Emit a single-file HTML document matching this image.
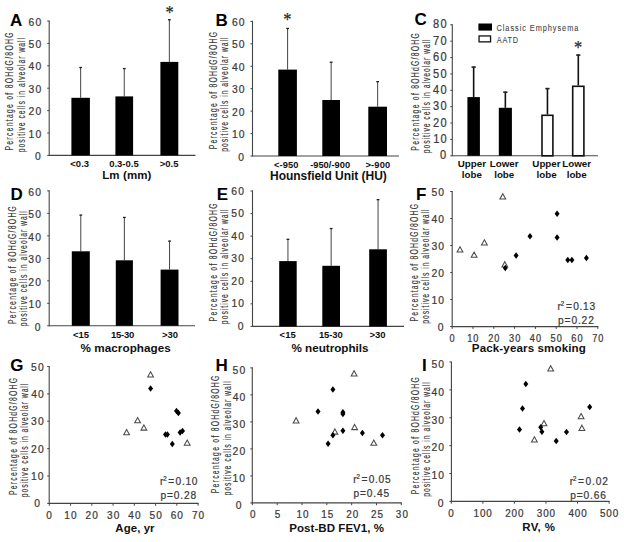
<!DOCTYPE html>
<html><head><meta charset="utf-8"><style>
html,body{margin:0;padding:0;background:#fff;}
body{width:624px;height:542px;overflow:hidden;}
svg{display:block;font-family:"Liberation Sans",sans-serif;}
</style></head><body>
<svg width="624" height="542" viewBox="0 0 624 542">
<rect width="624" height="542" fill="#fff"/>
<line x1="49.20" y1="20.40" x2="49.20" y2="155.90" stroke="#444" stroke-width="1.1"/>
<line x1="47.20" y1="155.40" x2="49.20" y2="155.40" stroke="#444" stroke-width="1"/>
<text transform="translate(34.92,160.03) scale(0.9,1)" font-size="11.5" font-weight="normal" fill="#3a3a3a" stroke="#3a3a3a" stroke-width="0.25" textLength="7.00" lengthAdjust="spacing">0</text>
<line x1="47.20" y1="133.00" x2="49.20" y2="133.00" stroke="#444" stroke-width="1"/>
<text transform="translate(28.58,137.63) scale(0.9,1)" font-size="11.5" font-weight="normal" fill="#3a3a3a" stroke="#3a3a3a" stroke-width="0.25" textLength="14.06" lengthAdjust="spacing">10</text>
<line x1="47.20" y1="110.60" x2="49.20" y2="110.60" stroke="#444" stroke-width="1"/>
<text transform="translate(28.55,115.22) scale(0.9,1)" font-size="11.5" font-weight="normal" fill="#3a3a3a" stroke="#3a3a3a" stroke-width="0.25" textLength="14.10" lengthAdjust="spacing">20</text>
<line x1="47.20" y1="88.20" x2="49.20" y2="88.20" stroke="#444" stroke-width="1"/>
<text transform="translate(28.54,92.83) scale(0.9,1)" font-size="11.5" font-weight="normal" fill="#3a3a3a" stroke="#3a3a3a" stroke-width="0.25" textLength="14.11" lengthAdjust="spacing">30</text>
<line x1="47.20" y1="65.80" x2="49.20" y2="65.80" stroke="#444" stroke-width="1"/>
<text transform="translate(28.52,70.42) scale(0.9,1)" font-size="11.5" font-weight="normal" fill="#3a3a3a" stroke="#3a3a3a" stroke-width="0.25" textLength="14.13" lengthAdjust="spacing">40</text>
<line x1="47.20" y1="43.40" x2="49.20" y2="43.40" stroke="#444" stroke-width="1"/>
<text transform="translate(28.54,48.02) scale(0.9,1)" font-size="11.5" font-weight="normal" fill="#3a3a3a" stroke="#3a3a3a" stroke-width="0.25" textLength="14.11" lengthAdjust="spacing">50</text>
<line x1="47.20" y1="21.00" x2="49.20" y2="21.00" stroke="#444" stroke-width="1"/>
<text transform="translate(28.55,25.62) scale(0.9,1)" font-size="11.5" font-weight="normal" fill="#3a3a3a" stroke="#3a3a3a" stroke-width="0.25" textLength="14.10" lengthAdjust="spacing">60</text>
<line x1="49.20" y1="155.40" x2="195.50" y2="155.40" stroke="#444" stroke-width="1.1"/>
<line x1="80.65" y1="67.05" x2="80.65" y2="97.80" stroke="#444" stroke-width="1.0"/>
<line x1="79.25" y1="67.50" x2="82.05" y2="67.50" stroke="#222" stroke-width="1.3"/>
<rect x="71.40" y="97.80" width="18.50" height="57.60" fill="#000"/>
<line x1="124.25" y1="68.10" x2="124.25" y2="96.40" stroke="#444" stroke-width="1.0"/>
<line x1="122.85" y1="68.55" x2="125.65" y2="68.55" stroke="#222" stroke-width="1.3"/>
<rect x="115.40" y="96.40" width="17.70" height="59.00" fill="#000"/>
<line x1="169.35" y1="19.30" x2="169.35" y2="61.90" stroke="#444" stroke-width="1.0"/>
<line x1="167.95" y1="19.75" x2="170.75" y2="19.75" stroke="#222" stroke-width="1.3"/>
<rect x="160.40" y="61.90" width="17.90" height="93.50" fill="#000"/>
<text transform="translate(165.41,19.09) scale(0.88,1)" font-family="Liberation Serif" font-size="18.6" fill="#2a2a2a" stroke="#2a2a2a" stroke-width="0.25">*</text>
<text x="70.30" y="166.90" font-size="9.5" font-weight="bold" fill="#111">&lt;0.3</text>
<text x="109.16" y="166.90" font-size="9.5" font-weight="bold" fill="#111">0.3-0.5</text>
<text x="159.75" y="166.90" font-size="9.5" font-weight="bold" fill="#111">&gt;0.5</text>
<text x="102.15" y="179.30" font-size="11.5" font-weight="bold" fill="#111" textLength="49.29" lengthAdjust="spacing">Lm (mm)</text>
<text x="9.88" y="25.60" font-size="17" font-weight="bold" fill="#000">A</text>
<text transform="translate(12.70,150.54) rotate(-90) scale(0.68,1.0)" font-size="10" fill="#383838" stroke="#383838" stroke-width="0.15" textLength="173.57" lengthAdjust="spacing">Percentage of 8OHdG/8OHG</text>
<text transform="translate(24.60,152.24) rotate(-90) scale(0.68,1.0)" font-size="10" fill="#383838" stroke="#383838" stroke-width="0.15" textLength="168.07" lengthAdjust="spacing">positive cells in alveolar wall</text>
<line x1="252.50" y1="20.80" x2="252.50" y2="156.50" stroke="#444" stroke-width="1.1"/>
<line x1="250.50" y1="156.00" x2="252.50" y2="156.00" stroke="#444" stroke-width="1"/>
<text transform="translate(238.32,160.53) scale(0.9,1)" font-size="11.5" font-weight="normal" fill="#3a3a3a" stroke="#3a3a3a" stroke-width="0.25" textLength="7.00" lengthAdjust="spacing">0</text>
<line x1="250.50" y1="133.57" x2="252.50" y2="133.57" stroke="#444" stroke-width="1"/>
<text transform="translate(231.98,138.09) scale(0.9,1)" font-size="11.5" font-weight="normal" fill="#3a3a3a" stroke="#3a3a3a" stroke-width="0.25" textLength="14.06" lengthAdjust="spacing">10</text>
<line x1="250.50" y1="111.13" x2="252.50" y2="111.13" stroke="#444" stroke-width="1"/>
<text transform="translate(231.95,115.66) scale(0.9,1)" font-size="11.5" font-weight="normal" fill="#3a3a3a" stroke="#3a3a3a" stroke-width="0.25" textLength="14.10" lengthAdjust="spacing">20</text>
<line x1="250.50" y1="88.70" x2="252.50" y2="88.70" stroke="#444" stroke-width="1"/>
<text transform="translate(231.94,93.23) scale(0.9,1)" font-size="11.5" font-weight="normal" fill="#3a3a3a" stroke="#3a3a3a" stroke-width="0.25" textLength="14.11" lengthAdjust="spacing">30</text>
<line x1="250.50" y1="66.27" x2="252.50" y2="66.27" stroke="#444" stroke-width="1"/>
<text transform="translate(231.92,70.79) scale(0.9,1)" font-size="11.5" font-weight="normal" fill="#3a3a3a" stroke="#3a3a3a" stroke-width="0.25" textLength="14.13" lengthAdjust="spacing">40</text>
<line x1="250.50" y1="43.83" x2="252.50" y2="43.83" stroke="#444" stroke-width="1"/>
<text transform="translate(231.94,48.36) scale(0.9,1)" font-size="11.5" font-weight="normal" fill="#3a3a3a" stroke="#3a3a3a" stroke-width="0.25" textLength="14.11" lengthAdjust="spacing">50</text>
<line x1="250.50" y1="21.40" x2="252.50" y2="21.40" stroke="#444" stroke-width="1"/>
<text transform="translate(231.95,25.93) scale(0.9,1)" font-size="11.5" font-weight="normal" fill="#3a3a3a" stroke="#3a3a3a" stroke-width="0.25" textLength="14.10" lengthAdjust="spacing">60</text>
<line x1="252.50" y1="156.00" x2="399.00" y2="156.00" stroke="#444" stroke-width="1.1"/>
<line x1="287.60" y1="28.00" x2="287.60" y2="69.60" stroke="#444" stroke-width="1.0"/>
<line x1="286.20" y1="28.45" x2="289.00" y2="28.45" stroke="#222" stroke-width="1.3"/>
<rect x="278.30" y="69.60" width="18.60" height="86.40" fill="#000"/>
<line x1="331.15" y1="61.80" x2="331.15" y2="100.00" stroke="#444" stroke-width="1.0"/>
<line x1="329.75" y1="62.25" x2="332.55" y2="62.25" stroke="#222" stroke-width="1.3"/>
<rect x="322.30" y="100.00" width="17.70" height="56.00" fill="#000"/>
<line x1="377.65" y1="81.20" x2="377.65" y2="106.70" stroke="#444" stroke-width="1.0"/>
<line x1="376.25" y1="81.65" x2="379.05" y2="81.65" stroke="#222" stroke-width="1.3"/>
<rect x="368.30" y="106.70" width="18.70" height="49.30" fill="#000"/>
<text transform="translate(283.21,26.29) scale(0.88,1)" font-family="Liberation Serif" font-size="18.6" fill="#2a2a2a" stroke="#2a2a2a" stroke-width="0.25">*</text>
<text x="274.03" y="168.00" font-size="9.3" font-weight="bold" fill="#111" textLength="24.35" lengthAdjust="spacing">&lt;-950</text>
<text x="310.13" y="168.00" font-size="9.3" font-weight="bold" fill="#111" textLength="39.95" lengthAdjust="spacing">-950/-900</text>
<text x="365.43" y="168.00" font-size="9.3" font-weight="bold" fill="#111" textLength="24.75" lengthAdjust="spacing">&gt;-900</text>
<text x="270.02" y="180.40" font-size="12" font-weight="bold" fill="#111" textLength="116.74" lengthAdjust="spacing">Hounsfield Unit (HU)</text>
<text x="215.59" y="25.80" font-size="17" font-weight="bold" fill="#000">B</text>
<text transform="translate(217.30,149.24) rotate(-90) scale(0.68,1.0)" font-size="10" fill="#383838" stroke="#383838" stroke-width="0.15" textLength="172.40" lengthAdjust="spacing">Percentage of 8OHdG/8OHG</text>
<text transform="translate(228.20,151.84) rotate(-90) scale(0.68,1.0)" font-size="10" fill="#383838" stroke="#383838" stroke-width="0.15" textLength="168.07" lengthAdjust="spacing">positive cells in alveolar wall</text>
<line x1="452.30" y1="24.20" x2="452.30" y2="156.30" stroke="#444" stroke-width="1.1"/>
<line x1="450.30" y1="155.80" x2="452.30" y2="155.80" stroke="#444" stroke-width="1"/>
<text transform="translate(439.91,159.41) scale(0.9,1)" font-size="12.3" font-weight="normal" fill="#3a3a3a" stroke="#3a3a3a" stroke-width="0.25" textLength="7.49" lengthAdjust="spacing">0</text>
<line x1="450.30" y1="139.43" x2="452.30" y2="139.43" stroke="#444" stroke-width="1"/>
<text transform="translate(433.13,143.03) scale(0.9,1)" font-size="12.3" font-weight="normal" fill="#3a3a3a" stroke="#3a3a3a" stroke-width="0.25" textLength="15.04" lengthAdjust="spacing">10</text>
<line x1="450.30" y1="123.05" x2="452.30" y2="123.05" stroke="#444" stroke-width="1"/>
<text transform="translate(433.10,126.66) scale(0.9,1)" font-size="12.3" font-weight="normal" fill="#3a3a3a" stroke="#3a3a3a" stroke-width="0.25" textLength="15.08" lengthAdjust="spacing">20</text>
<line x1="450.30" y1="106.68" x2="452.30" y2="106.68" stroke="#444" stroke-width="1"/>
<text transform="translate(433.09,110.28) scale(0.9,1)" font-size="12.3" font-weight="normal" fill="#3a3a3a" stroke="#3a3a3a" stroke-width="0.25" textLength="15.09" lengthAdjust="spacing">30</text>
<line x1="450.30" y1="90.30" x2="452.30" y2="90.30" stroke="#444" stroke-width="1"/>
<text transform="translate(433.07,93.91) scale(0.9,1)" font-size="12.3" font-weight="normal" fill="#3a3a3a" stroke="#3a3a3a" stroke-width="0.25" textLength="15.11" lengthAdjust="spacing">40</text>
<line x1="450.30" y1="73.93" x2="452.30" y2="73.93" stroke="#444" stroke-width="1"/>
<text transform="translate(433.09,77.53) scale(0.9,1)" font-size="12.3" font-weight="normal" fill="#3a3a3a" stroke="#3a3a3a" stroke-width="0.25" textLength="15.09" lengthAdjust="spacing">50</text>
<line x1="450.30" y1="57.55" x2="452.30" y2="57.55" stroke="#444" stroke-width="1"/>
<text transform="translate(433.10,61.16) scale(0.9,1)" font-size="12.3" font-weight="normal" fill="#3a3a3a" stroke="#3a3a3a" stroke-width="0.25" textLength="15.08" lengthAdjust="spacing">60</text>
<line x1="450.30" y1="41.18" x2="452.30" y2="41.18" stroke="#444" stroke-width="1"/>
<text transform="translate(433.10,44.78) scale(0.9,1)" font-size="12.3" font-weight="normal" fill="#3a3a3a" stroke="#3a3a3a" stroke-width="0.25" textLength="15.08" lengthAdjust="spacing">70</text>
<line x1="450.30" y1="24.80" x2="452.30" y2="24.80" stroke="#444" stroke-width="1"/>
<text transform="translate(433.09,28.41) scale(0.9,1)" font-size="12.3" font-weight="normal" fill="#3a3a3a" stroke="#3a3a3a" stroke-width="0.25" textLength="15.08" lengthAdjust="spacing">80</text>
<line x1="452.30" y1="155.80" x2="598.00" y2="155.80" stroke="#444" stroke-width="1.1"/>
<line x1="473.65" y1="66.50" x2="473.65" y2="97.10" stroke="#111" stroke-width="1.6"/>
<line x1="471.55" y1="67.10" x2="475.75" y2="67.10" stroke="#222" stroke-width="1.6"/>
<rect x="467.40" y="97.10" width="12.50" height="58.70" fill="#000"/>
<line x1="505.35" y1="91.60" x2="505.35" y2="107.80" stroke="#111" stroke-width="1.6"/>
<line x1="503.25" y1="92.20" x2="507.45" y2="92.20" stroke="#222" stroke-width="1.6"/>
<rect x="498.80" y="107.80" width="13.10" height="48.00" fill="#000"/>
<line x1="547.45" y1="88.00" x2="547.45" y2="114.50" stroke="#111" stroke-width="1.6"/>
<line x1="545.35" y1="88.60" x2="549.55" y2="88.60" stroke="#222" stroke-width="1.6"/>
<rect x="542.00" y="115.30" width="10.90" height="40.50" fill="#fff" stroke="#111" stroke-width="1.6"/>
<line x1="578.30" y1="54.50" x2="578.30" y2="85.50" stroke="#111" stroke-width="1.6"/>
<line x1="576.20" y1="55.10" x2="580.40" y2="55.10" stroke="#222" stroke-width="1.6"/>
<rect x="572.70" y="86.30" width="11.20" height="69.50" fill="#fff" stroke="#111" stroke-width="1.6"/>
<text transform="translate(573.91,53.89) scale(0.88,1)" font-family="Liberation Serif" font-size="18.6" fill="#2a2a2a" stroke="#2a2a2a" stroke-width="0.25">*</text>
<text x="457.72" y="166.50" font-size="9.8" font-weight="bold" fill="#111">Upper</text>
<text x="461.86" y="177.90" font-size="9.8" font-weight="bold" fill="#111">lobe</text>
<text x="489.72" y="166.50" font-size="9.8" font-weight="bold" fill="#111">Lower</text>
<text x="494.16" y="177.90" font-size="9.8" font-weight="bold" fill="#111">lobe</text>
<text x="532.32" y="166.50" font-size="9.8" font-weight="bold" fill="#111">Upper</text>
<text x="536.46" y="177.90" font-size="9.8" font-weight="bold" fill="#111">lobe</text>
<text x="562.22" y="166.50" font-size="9.8" font-weight="bold" fill="#111">Lower</text>
<text x="566.66" y="177.90" font-size="9.8" font-weight="bold" fill="#111">lobe</text>
<rect x="478.40" y="23.50" width="13.60" height="7.10" fill="#000"/>
<rect x="479.05" y="35.95" width="11.50" height="5.90" fill="#fff" stroke="#111" stroke-width="1.3"/>
<text transform="translate(496.53,30.80) scale(0.8,1)" font-size="9.2" font-weight="normal" fill="#444" stroke="#444" stroke-width="0.1" textLength="102.24" lengthAdjust="spacing">Classic Emphysema</text>
<text transform="translate(496.86,42.60) scale(0.8,1)" font-size="9.2" font-weight="normal" fill="#444" stroke="#444" stroke-width="0.1" textLength="26.61" lengthAdjust="spacing">AATD</text>
<text x="414.42" y="25.00" font-size="17" font-weight="bold" fill="#000">C</text>
<text transform="translate(418.80,150.64) rotate(-90) scale(0.68,1.0)" font-size="10" fill="#383838" stroke="#383838" stroke-width="0.15" textLength="172.54" lengthAdjust="spacing">Percentage of 8OHdG/8OHG</text>
<text transform="translate(429.60,153.24) rotate(-90) scale(0.68,1.0)" font-size="10" fill="#383838" stroke="#383838" stroke-width="0.15" textLength="167.48" lengthAdjust="spacing">positive cells in alveolar wall</text>
<line x1="49.20" y1="190.30" x2="49.20" y2="326.30" stroke="#444" stroke-width="1.1"/>
<line x1="47.20" y1="325.80" x2="49.20" y2="325.80" stroke="#444" stroke-width="1"/>
<text transform="translate(34.72,330.73) scale(0.9,1)" font-size="11.5" font-weight="normal" fill="#3a3a3a" stroke="#3a3a3a" stroke-width="0.25" textLength="7.00" lengthAdjust="spacing">0</text>
<line x1="47.20" y1="303.32" x2="49.20" y2="303.32" stroke="#444" stroke-width="1"/>
<text transform="translate(28.38,308.24) scale(0.9,1)" font-size="11.5" font-weight="normal" fill="#3a3a3a" stroke="#3a3a3a" stroke-width="0.25" textLength="14.06" lengthAdjust="spacing">10</text>
<line x1="47.20" y1="280.83" x2="49.20" y2="280.83" stroke="#444" stroke-width="1"/>
<text transform="translate(28.35,285.76) scale(0.9,1)" font-size="11.5" font-weight="normal" fill="#3a3a3a" stroke="#3a3a3a" stroke-width="0.25" textLength="14.10" lengthAdjust="spacing">20</text>
<line x1="47.20" y1="258.35" x2="49.20" y2="258.35" stroke="#444" stroke-width="1"/>
<text transform="translate(28.34,263.28) scale(0.9,1)" font-size="11.5" font-weight="normal" fill="#3a3a3a" stroke="#3a3a3a" stroke-width="0.25" textLength="14.11" lengthAdjust="spacing">30</text>
<line x1="47.20" y1="235.87" x2="49.20" y2="235.87" stroke="#444" stroke-width="1"/>
<text transform="translate(28.32,240.79) scale(0.9,1)" font-size="11.5" font-weight="normal" fill="#3a3a3a" stroke="#3a3a3a" stroke-width="0.25" textLength="14.13" lengthAdjust="spacing">40</text>
<line x1="47.20" y1="213.38" x2="49.20" y2="213.38" stroke="#444" stroke-width="1"/>
<text transform="translate(28.34,218.31) scale(0.9,1)" font-size="11.5" font-weight="normal" fill="#3a3a3a" stroke="#3a3a3a" stroke-width="0.25" textLength="14.11" lengthAdjust="spacing">50</text>
<line x1="47.20" y1="190.90" x2="49.20" y2="190.90" stroke="#444" stroke-width="1"/>
<text transform="translate(28.35,195.83) scale(0.9,1)" font-size="11.5" font-weight="normal" fill="#3a3a3a" stroke="#3a3a3a" stroke-width="0.25" textLength="14.10" lengthAdjust="spacing">60</text>
<line x1="49.20" y1="325.80" x2="195.00" y2="325.80" stroke="#444" stroke-width="1.1"/>
<line x1="80.80" y1="214.70" x2="80.80" y2="251.30" stroke="#444" stroke-width="1.0"/>
<line x1="79.40" y1="215.15" x2="82.20" y2="215.15" stroke="#222" stroke-width="1.3"/>
<rect x="71.80" y="251.30" width="18.00" height="74.50" fill="#000"/>
<line x1="124.35" y1="217.00" x2="124.35" y2="260.30" stroke="#444" stroke-width="1.0"/>
<line x1="122.95" y1="217.45" x2="125.75" y2="217.45" stroke="#222" stroke-width="1.3"/>
<rect x="115.80" y="260.30" width="17.10" height="65.50" fill="#000"/>
<line x1="169.55" y1="240.70" x2="169.55" y2="269.60" stroke="#444" stroke-width="1.0"/>
<line x1="168.15" y1="241.15" x2="170.95" y2="241.15" stroke="#222" stroke-width="1.3"/>
<rect x="160.60" y="269.60" width="17.90" height="56.20" fill="#000"/>
<text x="72.88" y="338.30" font-size="9.5" font-weight="bold" fill="#111">&lt;15</text>
<text x="111.03" y="338.30" font-size="9.5" font-weight="bold" fill="#111" textLength="23.32" lengthAdjust="spacing">15-30</text>
<text x="161.95" y="338.30" font-size="9.5" font-weight="bold" fill="#111">&gt;30</text>
<text x="80.51" y="351.70" font-size="11.7" font-weight="bold" fill="#111" textLength="90.36" lengthAdjust="spacing">% macrophages</text>
<text x="10.39" y="199.80" font-size="17" font-weight="bold" fill="#000">D</text>
<text transform="translate(15.70,324.04) rotate(-90) scale(0.68,1.0)" font-size="10" fill="#383838" stroke="#383838" stroke-width="0.15" textLength="173.43" lengthAdjust="spacing">Percentage of 8OHdG/8OHG</text>
<text transform="translate(27.00,326.24) rotate(-90) scale(0.68,1.0)" font-size="10" fill="#383838" stroke="#383838" stroke-width="0.15" textLength="169.25" lengthAdjust="spacing">positive cells in alveolar wall</text>
<line x1="252.50" y1="190.40" x2="252.50" y2="326.90" stroke="#444" stroke-width="1.1"/>
<line x1="250.50" y1="326.40" x2="252.50" y2="326.40" stroke="#444" stroke-width="1"/>
<text transform="translate(237.72,329.92) scale(0.9,1)" font-size="11.5" font-weight="normal" fill="#3a3a3a" stroke="#3a3a3a" stroke-width="0.25" textLength="7.00" lengthAdjust="spacing">0</text>
<line x1="250.50" y1="303.83" x2="252.50" y2="303.83" stroke="#444" stroke-width="1"/>
<text transform="translate(231.38,307.36) scale(0.9,1)" font-size="11.5" font-weight="normal" fill="#3a3a3a" stroke="#3a3a3a" stroke-width="0.25" textLength="14.06" lengthAdjust="spacing">10</text>
<line x1="250.50" y1="281.27" x2="252.50" y2="281.27" stroke="#444" stroke-width="1"/>
<text transform="translate(231.35,284.79) scale(0.9,1)" font-size="11.5" font-weight="normal" fill="#3a3a3a" stroke="#3a3a3a" stroke-width="0.25" textLength="14.10" lengthAdjust="spacing">20</text>
<line x1="250.50" y1="258.70" x2="252.50" y2="258.70" stroke="#444" stroke-width="1"/>
<text transform="translate(231.34,262.22) scale(0.9,1)" font-size="11.5" font-weight="normal" fill="#3a3a3a" stroke="#3a3a3a" stroke-width="0.25" textLength="14.11" lengthAdjust="spacing">30</text>
<line x1="250.50" y1="236.13" x2="252.50" y2="236.13" stroke="#444" stroke-width="1"/>
<text transform="translate(231.32,239.66) scale(0.9,1)" font-size="11.5" font-weight="normal" fill="#3a3a3a" stroke="#3a3a3a" stroke-width="0.25" textLength="14.13" lengthAdjust="spacing">40</text>
<line x1="250.50" y1="213.57" x2="252.50" y2="213.57" stroke="#444" stroke-width="1"/>
<text transform="translate(231.34,217.09) scale(0.9,1)" font-size="11.5" font-weight="normal" fill="#3a3a3a" stroke="#3a3a3a" stroke-width="0.25" textLength="14.11" lengthAdjust="spacing">50</text>
<line x1="250.50" y1="191.00" x2="252.50" y2="191.00" stroke="#444" stroke-width="1"/>
<text transform="translate(231.35,194.53) scale(0.9,1)" font-size="11.5" font-weight="normal" fill="#3a3a3a" stroke="#3a3a3a" stroke-width="0.25" textLength="14.10" lengthAdjust="spacing">60</text>
<line x1="252.50" y1="326.40" x2="404.00" y2="326.40" stroke="#444" stroke-width="1.1"/>
<line x1="287.95" y1="238.90" x2="287.95" y2="261.10" stroke="#444" stroke-width="1.0"/>
<line x1="286.55" y1="239.35" x2="289.35" y2="239.35" stroke="#222" stroke-width="1.3"/>
<rect x="279.20" y="261.10" width="17.50" height="65.30" fill="#000"/>
<line x1="331.15" y1="228.10" x2="331.15" y2="265.80" stroke="#444" stroke-width="1.0"/>
<line x1="329.75" y1="228.55" x2="332.55" y2="228.55" stroke="#222" stroke-width="1.3"/>
<rect x="322.30" y="265.80" width="17.70" height="60.60" fill="#000"/>
<line x1="378.05" y1="199.20" x2="378.05" y2="249.30" stroke="#444" stroke-width="1.0"/>
<line x1="376.65" y1="199.65" x2="379.45" y2="199.65" stroke="#222" stroke-width="1.3"/>
<rect x="369.20" y="249.30" width="17.70" height="77.10" fill="#000"/>
<text x="279.58" y="338.30" font-size="9.5" font-weight="bold" fill="#111">&lt;15</text>
<text x="318.93" y="338.30" font-size="9.5" font-weight="bold" fill="#111" textLength="23.92" lengthAdjust="spacing">15-30</text>
<text x="369.45" y="338.30" font-size="9.5" font-weight="bold" fill="#111">&gt;30</text>
<text x="291.41" y="352.20" font-size="11.7" font-weight="bold" fill="#111" textLength="77.18" lengthAdjust="spacing">% neutrophils</text>
<text x="216.80" y="200.20" font-size="17" font-weight="bold" fill="#000">E</text>
<text transform="translate(217.30,321.44) rotate(-90) scale(0.68,1.0)" font-size="10" fill="#383838" stroke="#383838" stroke-width="0.15" textLength="173.57" lengthAdjust="spacing">Percentage of 8OHdG/8OHG</text>
<text transform="translate(228.30,324.14) rotate(-90) scale(0.68,1.0)" font-size="10" fill="#383838" stroke="#383838" stroke-width="0.15" textLength="168.66" lengthAdjust="spacing">positive cells in alveolar wall</text>
<line x1="452.20" y1="190.90" x2="452.20" y2="327.10" stroke="#444" stroke-width="1.1"/>
<line x1="450.20" y1="326.60" x2="452.20" y2="326.60" stroke="#444" stroke-width="1"/>
<text transform="translate(437.82,330.73) scale(0.9,1)" font-size="11.5" font-weight="normal" fill="#3a3a3a" stroke="#3a3a3a" stroke-width="0.25" textLength="7.00" lengthAdjust="spacing">0</text>
<line x1="450.20" y1="299.58" x2="452.20" y2="299.58" stroke="#444" stroke-width="1"/>
<text transform="translate(431.48,303.71) scale(0.9,1)" font-size="11.5" font-weight="normal" fill="#3a3a3a" stroke="#3a3a3a" stroke-width="0.25" textLength="14.06" lengthAdjust="spacing">10</text>
<line x1="450.20" y1="272.56" x2="452.20" y2="272.56" stroke="#444" stroke-width="1"/>
<text transform="translate(431.45,276.69) scale(0.9,1)" font-size="11.5" font-weight="normal" fill="#3a3a3a" stroke="#3a3a3a" stroke-width="0.25" textLength="14.10" lengthAdjust="spacing">20</text>
<line x1="450.20" y1="245.54" x2="452.20" y2="245.54" stroke="#444" stroke-width="1"/>
<text transform="translate(431.44,249.67) scale(0.9,1)" font-size="11.5" font-weight="normal" fill="#3a3a3a" stroke="#3a3a3a" stroke-width="0.25" textLength="14.11" lengthAdjust="spacing">30</text>
<line x1="450.20" y1="218.52" x2="452.20" y2="218.52" stroke="#444" stroke-width="1"/>
<text transform="translate(431.42,222.65) scale(0.9,1)" font-size="11.5" font-weight="normal" fill="#3a3a3a" stroke="#3a3a3a" stroke-width="0.25" textLength="14.13" lengthAdjust="spacing">40</text>
<line x1="450.20" y1="191.50" x2="452.20" y2="191.50" stroke="#444" stroke-width="1"/>
<text transform="translate(431.44,195.63) scale(0.9,1)" font-size="11.5" font-weight="normal" fill="#3a3a3a" stroke="#3a3a3a" stroke-width="0.25" textLength="14.11" lengthAdjust="spacing">50</text>
<line x1="451.70" y1="326.60" x2="598.30" y2="326.60" stroke="#444" stroke-width="1.1"/>
<line x1="452.20" y1="326.60" x2="452.20" y2="328.90" stroke="#444" stroke-width="1"/>
<text transform="translate(449.41,341.50) scale(0.9,1)" font-size="10.2" font-weight="normal" fill="#3a3a3a" stroke="#3a3a3a" stroke-width="0.25" textLength="6.21" lengthAdjust="spacing">0</text>
<line x1="473.00" y1="326.60" x2="473.00" y2="328.90" stroke="#444" stroke-width="1"/>
<text transform="translate(467.24,341.50) scale(0.9,1)" font-size="10.2" font-weight="normal" fill="#3a3a3a" stroke="#3a3a3a" stroke-width="0.25" textLength="12.47" lengthAdjust="spacing">10</text>
<line x1="493.80" y1="326.60" x2="493.80" y2="328.90" stroke="#444" stroke-width="1"/>
<text transform="translate(488.14,341.50) scale(0.9,1)" font-size="10.2" font-weight="normal" fill="#3a3a3a" stroke="#3a3a3a" stroke-width="0.25" textLength="12.50" lengthAdjust="spacing">20</text>
<line x1="514.60" y1="326.60" x2="514.60" y2="328.90" stroke="#444" stroke-width="1"/>
<text transform="translate(508.98,341.50) scale(0.9,1)" font-size="10.2" font-weight="normal" fill="#3a3a3a" stroke="#3a3a3a" stroke-width="0.25" textLength="12.51" lengthAdjust="spacing">30</text>
<line x1="535.40" y1="326.60" x2="535.40" y2="328.90" stroke="#444" stroke-width="1"/>
<text transform="translate(529.84,341.50) scale(0.9,1)" font-size="10.2" font-weight="normal" fill="#3a3a3a" stroke="#3a3a3a" stroke-width="0.25" textLength="12.53" lengthAdjust="spacing">40</text>
<line x1="556.20" y1="326.60" x2="556.20" y2="328.90" stroke="#444" stroke-width="1"/>
<text transform="translate(550.58,341.50) scale(0.9,1)" font-size="10.2" font-weight="normal" fill="#3a3a3a" stroke="#3a3a3a" stroke-width="0.25" textLength="12.51" lengthAdjust="spacing">50</text>
<line x1="577.00" y1="326.60" x2="577.00" y2="328.90" stroke="#444" stroke-width="1"/>
<text transform="translate(571.34,341.50) scale(0.9,1)" font-size="10.2" font-weight="normal" fill="#3a3a3a" stroke="#3a3a3a" stroke-width="0.25" textLength="12.50" lengthAdjust="spacing">60</text>
<line x1="597.80" y1="326.60" x2="597.80" y2="328.90" stroke="#444" stroke-width="1"/>
<text transform="translate(592.14,341.50) scale(0.9,1)" font-size="10.2" font-weight="normal" fill="#3a3a3a" stroke="#3a3a3a" stroke-width="0.25" textLength="12.50" lengthAdjust="spacing">70</text>
<path d="M502.80,193.70 L505.70,198.90 L499.90,198.90 Z" fill="#fff" stroke="#4a4a4a" stroke-width="1.05" stroke-linejoin="miter"/>
<path d="M460.00,246.80 L462.90,252.00 L457.10,252.00 Z" fill="#fff" stroke="#4a4a4a" stroke-width="1.05" stroke-linejoin="miter"/>
<path d="M474.10,252.10 L477.00,257.30 L471.20,257.30 Z" fill="#fff" stroke="#4a4a4a" stroke-width="1.05" stroke-linejoin="miter"/>
<path d="M484.40,239.80 L487.30,245.00 L481.50,245.00 Z" fill="#fff" stroke="#4a4a4a" stroke-width="1.05" stroke-linejoin="miter"/>
<path d="M504.80,261.70 L507.70,266.90 L501.90,266.90 Z" fill="#fff" stroke="#4a4a4a" stroke-width="1.05" stroke-linejoin="miter"/>
<path d="M516.10,252.25 L518.60,255.50 L516.10,258.75 L513.60,255.50 Z" fill="#000"/>
<path d="M505.30,264.75 L507.80,268.00 L505.30,271.25 L502.80,268.00 Z" fill="#000"/>
<path d="M530.00,232.95 L532.50,236.20 L530.00,239.45 L527.50,236.20 Z" fill="#000"/>
<path d="M557.10,210.55 L559.60,213.80 L557.10,217.05 L554.60,213.80 Z" fill="#000"/>
<path d="M557.10,234.35 L559.60,237.60 L557.10,240.85 L554.60,237.60 Z" fill="#000"/>
<path d="M567.80,256.65 L570.30,259.90 L567.80,263.15 L565.30,259.90 Z" fill="#000"/>
<path d="M571.90,256.65 L574.40,259.90 L571.90,263.15 L569.40,259.90 Z" fill="#000"/>
<path d="M586.40,254.65 L588.90,257.90 L586.40,261.15 L583.90,257.90 Z" fill="#000"/>
<text transform="translate(557.54,309.70) scale(0.9,1)" font-size="11.3" font-weight="normal" fill="#3a3a3a" stroke="#3a3a3a" stroke-width="0.25" textLength="4.08" lengthAdjust="spacing">r</text>
<text transform="translate(560.79,306.00) scale(0.9,1)" font-size="6.8" font-weight="normal" fill="#3a3a3a" stroke="#3a3a3a" stroke-width="0.25" textLength="5.24" lengthAdjust="spacing">2</text>
<text transform="translate(565.89,309.70) scale(0.9,1)" font-size="11.3" font-weight="normal" fill="#3a3a3a" stroke="#3a3a3a" stroke-width="0.25" textLength="6.79" lengthAdjust="spacing">=</text>
<text transform="translate(573.19,309.70) scale(0.9,1)" font-size="11.3" font-weight="normal" fill="#3a3a3a" stroke="#3a3a3a" stroke-width="0.25" textLength="24.42" lengthAdjust="spacing">0.13</text>
<text transform="translate(558.04,323.80) scale(0.9,1)" font-size="11.3" font-weight="normal" fill="#3a3a3a" stroke="#3a3a3a" stroke-width="0.25" textLength="39.76" lengthAdjust="spacing">p=0.22</text>
<text x="471.85" y="352.00" font-size="11.6" font-weight="bold" fill="#111" textLength="114.03" lengthAdjust="spacing">Pack-years smoking</text>
<text x="415.89" y="199.80" font-size="17" font-weight="bold" fill="#000">F</text>
<text transform="translate(418.30,321.44) rotate(-90) scale(0.68,1.0)" font-size="10" fill="#383838" stroke="#383838" stroke-width="0.15" textLength="172.84" lengthAdjust="spacing">Percentage of 8OHdG/8OHG</text>
<text transform="translate(429.30,323.84) rotate(-90) scale(0.68,1.0)" font-size="10" fill="#383838" stroke="#383838" stroke-width="0.15" textLength="168.07" lengthAdjust="spacing">positive cells in alveolar wall</text>
<line x1="49.20" y1="365.90" x2="49.20" y2="503.90" stroke="#444" stroke-width="1.1"/>
<line x1="47.20" y1="503.40" x2="49.20" y2="503.40" stroke="#444" stroke-width="1"/>
<text transform="translate(34.25,507.42) scale(0.9,1)" font-size="11.5" font-weight="normal" fill="#3a3a3a" stroke="#3a3a3a" stroke-width="0.25" textLength="7.00" lengthAdjust="spacing">0</text>
<line x1="47.20" y1="476.02" x2="49.20" y2="476.02" stroke="#444" stroke-width="1"/>
<text transform="translate(30.90,480.04) scale(0.9,1)" font-size="11.5" font-weight="normal" fill="#3a3a3a" stroke="#3a3a3a" stroke-width="0.25" textLength="14.06" lengthAdjust="spacing">10</text>
<line x1="47.20" y1="448.64" x2="49.20" y2="448.64" stroke="#444" stroke-width="1"/>
<text transform="translate(31.02,452.66) scale(0.9,1)" font-size="11.5" font-weight="normal" fill="#3a3a3a" stroke="#3a3a3a" stroke-width="0.25" textLength="14.10" lengthAdjust="spacing">20</text>
<line x1="47.20" y1="421.26" x2="49.20" y2="421.26" stroke="#444" stroke-width="1"/>
<text transform="translate(31.06,425.28) scale(0.9,1)" font-size="11.5" font-weight="normal" fill="#3a3a3a" stroke="#3a3a3a" stroke-width="0.25" textLength="14.11" lengthAdjust="spacing">30</text>
<line x1="47.20" y1="393.88" x2="49.20" y2="393.88" stroke="#444" stroke-width="1"/>
<text transform="translate(31.13,397.90) scale(0.9,1)" font-size="11.5" font-weight="normal" fill="#3a3a3a" stroke="#3a3a3a" stroke-width="0.25" textLength="14.13" lengthAdjust="spacing">40</text>
<line x1="47.20" y1="366.50" x2="49.20" y2="366.50" stroke="#444" stroke-width="1"/>
<text transform="translate(31.06,370.52) scale(0.9,1)" font-size="11.5" font-weight="normal" fill="#3a3a3a" stroke="#3a3a3a" stroke-width="0.25" textLength="14.11" lengthAdjust="spacing">50</text>
<line x1="48.80" y1="503.40" x2="198.60" y2="503.40" stroke="#444" stroke-width="1.1"/>
<line x1="49.30" y1="503.40" x2="49.30" y2="505.70" stroke="#444" stroke-width="1"/>
<text transform="translate(46.24,519.30) scale(0.9,1)" font-size="11.2" font-weight="normal" fill="#3a3a3a" stroke="#3a3a3a" stroke-width="0.25" textLength="6.82" lengthAdjust="spacing">0</text>
<line x1="70.56" y1="503.40" x2="70.56" y2="505.70" stroke="#444" stroke-width="1"/>
<text transform="translate(64.23,519.30) scale(0.9,1)" font-size="11.2" font-weight="normal" fill="#3a3a3a" stroke="#3a3a3a" stroke-width="0.25" textLength="13.70" lengthAdjust="spacing">10</text>
<line x1="91.81" y1="503.40" x2="91.81" y2="505.70" stroke="#444" stroke-width="1"/>
<text transform="translate(85.60,519.30) scale(0.9,1)" font-size="11.2" font-weight="normal" fill="#3a3a3a" stroke="#3a3a3a" stroke-width="0.25" textLength="13.73" lengthAdjust="spacing">20</text>
<line x1="113.07" y1="503.40" x2="113.07" y2="505.70" stroke="#444" stroke-width="1"/>
<text transform="translate(106.90,519.30) scale(0.9,1)" font-size="11.2" font-weight="normal" fill="#3a3a3a" stroke="#3a3a3a" stroke-width="0.25" textLength="13.74" lengthAdjust="spacing">30</text>
<line x1="134.33" y1="503.40" x2="134.33" y2="505.70" stroke="#444" stroke-width="1"/>
<text transform="translate(128.22,519.30) scale(0.9,1)" font-size="11.2" font-weight="normal" fill="#3a3a3a" stroke="#3a3a3a" stroke-width="0.25" textLength="13.76" lengthAdjust="spacing">40</text>
<line x1="155.59" y1="503.40" x2="155.59" y2="505.70" stroke="#444" stroke-width="1"/>
<text transform="translate(149.41,519.30) scale(0.9,1)" font-size="11.2" font-weight="normal" fill="#3a3a3a" stroke="#3a3a3a" stroke-width="0.25" textLength="13.74" lengthAdjust="spacing">50</text>
<line x1="176.84" y1="503.40" x2="176.84" y2="505.70" stroke="#444" stroke-width="1"/>
<text transform="translate(170.63,519.30) scale(0.9,1)" font-size="11.2" font-weight="normal" fill="#3a3a3a" stroke="#3a3a3a" stroke-width="0.25" textLength="13.73" lengthAdjust="spacing">60</text>
<line x1="198.10" y1="503.40" x2="198.10" y2="505.70" stroke="#444" stroke-width="1"/>
<text transform="translate(191.88,519.30) scale(0.9,1)" font-size="11.2" font-weight="normal" fill="#3a3a3a" stroke="#3a3a3a" stroke-width="0.25" textLength="13.73" lengthAdjust="spacing">70</text>
<path d="M150.60,371.80 L153.50,377.00 L147.70,377.00 Z" fill="#fff" stroke="#4a4a4a" stroke-width="1.05" stroke-linejoin="miter"/>
<path d="M137.60,417.60 L140.50,422.80 L134.70,422.80 Z" fill="#fff" stroke="#4a4a4a" stroke-width="1.05" stroke-linejoin="miter"/>
<path d="M143.90,424.90 L146.80,430.10 L141.00,430.10 Z" fill="#fff" stroke="#4a4a4a" stroke-width="1.05" stroke-linejoin="miter"/>
<path d="M126.60,429.60 L129.50,434.80 L123.70,434.80 Z" fill="#fff" stroke="#4a4a4a" stroke-width="1.05" stroke-linejoin="miter"/>
<path d="M187.20,440.10 L190.10,445.30 L184.30,445.30 Z" fill="#fff" stroke="#4a4a4a" stroke-width="1.05" stroke-linejoin="miter"/>
<path d="M150.60,385.25 L153.10,388.50 L150.60,391.75 L148.10,388.50 Z" fill="#000"/>
<path d="M176.50,407.75 L179.00,411.00 L176.50,414.25 L174.00,411.00 Z" fill="#000"/>
<path d="M178.40,409.65 L180.90,412.90 L178.40,416.15 L175.90,412.90 Z" fill="#000"/>
<path d="M165.50,431.25 L168.00,434.50 L165.50,437.75 L163.00,434.50 Z" fill="#000"/>
<path d="M167.40,431.25 L169.90,434.50 L167.40,437.75 L164.90,434.50 Z" fill="#000"/>
<path d="M180.10,429.25 L182.60,432.50 L180.10,435.75 L177.60,432.50 Z" fill="#000"/>
<path d="M182.50,427.65 L185.00,430.90 L182.50,434.15 L180.00,430.90 Z" fill="#000"/>
<path d="M172.30,440.65 L174.80,443.90 L172.30,447.15 L169.80,443.90 Z" fill="#000"/>
<text transform="translate(159.94,484.70) scale(0.9,1)" font-size="11.3" font-weight="normal" fill="#3a3a3a" stroke="#3a3a3a" stroke-width="0.25" textLength="4.08" lengthAdjust="spacing">r</text>
<text transform="translate(163.19,481.00) scale(0.9,1)" font-size="6.8" font-weight="normal" fill="#3a3a3a" stroke="#3a3a3a" stroke-width="0.25" textLength="5.24" lengthAdjust="spacing">2</text>
<text transform="translate(168.29,484.70) scale(0.9,1)" font-size="11.3" font-weight="normal" fill="#3a3a3a" stroke="#3a3a3a" stroke-width="0.25" textLength="6.79" lengthAdjust="spacing">=</text>
<text transform="translate(175.59,484.70) scale(0.9,1)" font-size="11.3" font-weight="normal" fill="#3a3a3a" stroke="#3a3a3a" stroke-width="0.25" textLength="24.36" lengthAdjust="spacing">0.10</text>
<text transform="translate(160.44,498.70) scale(0.9,1)" font-size="11.3" font-weight="normal" fill="#3a3a3a" stroke="#3a3a3a" stroke-width="0.25" textLength="39.65" lengthAdjust="spacing">p=0.28</text>
<text x="115.37" y="532.00" font-size="11.4" font-weight="bold" fill="#111" textLength="39.16" lengthAdjust="spacing">Age, yr</text>
<text x="10.32" y="370.50" font-size="17" font-weight="bold" fill="#000">G</text>
<text transform="translate(16.70,495.04) rotate(-90) scale(0.68,1.0)" font-size="10" fill="#383838" stroke="#383838" stroke-width="0.15" textLength="172.10" lengthAdjust="spacing">Percentage of 8OHdG/8OHG</text>
<text transform="translate(27.70,497.24) rotate(-90) scale(0.68,1.0)" font-size="10" fill="#383838" stroke="#383838" stroke-width="0.15" textLength="167.04" lengthAdjust="spacing">positive cells in alveolar wall</text>
<line x1="252.30" y1="367.30" x2="252.30" y2="503.40" stroke="#444" stroke-width="1.1"/>
<line x1="250.30" y1="502.90" x2="252.30" y2="502.90" stroke="#444" stroke-width="1"/>
<text transform="translate(235.75,508.52) scale(0.9,1)" font-size="11.5" font-weight="normal" fill="#3a3a3a" stroke="#3a3a3a" stroke-width="0.25" textLength="7.00" lengthAdjust="spacing">0</text>
<line x1="250.30" y1="475.90" x2="252.30" y2="475.90" stroke="#444" stroke-width="1"/>
<text transform="translate(232.40,481.52) scale(0.9,1)" font-size="11.5" font-weight="normal" fill="#3a3a3a" stroke="#3a3a3a" stroke-width="0.25" textLength="14.06" lengthAdjust="spacing">10</text>
<line x1="250.30" y1="448.90" x2="252.30" y2="448.90" stroke="#444" stroke-width="1"/>
<text transform="translate(232.52,454.52) scale(0.9,1)" font-size="11.5" font-weight="normal" fill="#3a3a3a" stroke="#3a3a3a" stroke-width="0.25" textLength="14.10" lengthAdjust="spacing">20</text>
<line x1="250.30" y1="421.90" x2="252.30" y2="421.90" stroke="#444" stroke-width="1"/>
<text transform="translate(232.56,427.52) scale(0.9,1)" font-size="11.5" font-weight="normal" fill="#3a3a3a" stroke="#3a3a3a" stroke-width="0.25" textLength="14.11" lengthAdjust="spacing">30</text>
<line x1="250.30" y1="394.90" x2="252.30" y2="394.90" stroke="#444" stroke-width="1"/>
<text transform="translate(232.63,400.52) scale(0.9,1)" font-size="11.5" font-weight="normal" fill="#3a3a3a" stroke="#3a3a3a" stroke-width="0.25" textLength="14.13" lengthAdjust="spacing">40</text>
<line x1="250.30" y1="367.90" x2="252.30" y2="367.90" stroke="#444" stroke-width="1"/>
<text transform="translate(232.56,373.52) scale(0.9,1)" font-size="11.5" font-weight="normal" fill="#3a3a3a" stroke="#3a3a3a" stroke-width="0.25" textLength="14.11" lengthAdjust="spacing">50</text>
<line x1="251.90" y1="502.90" x2="401.80" y2="502.90" stroke="#444" stroke-width="1.1"/>
<line x1="252.40" y1="502.90" x2="252.40" y2="505.20" stroke="#444" stroke-width="1"/>
<text transform="translate(249.99,517.80) scale(0.9,1)" font-size="11.0" font-weight="normal" fill="#3a3a3a" stroke="#3a3a3a" stroke-width="0.25" textLength="6.70" lengthAdjust="spacing">0</text>
<line x1="277.22" y1="502.90" x2="277.22" y2="505.20" stroke="#444" stroke-width="1"/>
<text transform="translate(274.81,517.80) scale(0.9,1)" font-size="11.0" font-weight="normal" fill="#3a3a3a" stroke="#3a3a3a" stroke-width="0.25" textLength="6.70" lengthAdjust="spacing">5</text>
<line x1="302.03" y1="502.90" x2="302.03" y2="505.20" stroke="#444" stroke-width="1"/>
<text transform="translate(296.42,517.80) scale(0.9,1)" font-size="11.0" font-weight="normal" fill="#3a3a3a" stroke="#3a3a3a" stroke-width="0.25" textLength="13.45" lengthAdjust="spacing">10</text>
<line x1="326.85" y1="502.90" x2="326.85" y2="505.20" stroke="#444" stroke-width="1"/>
<text transform="translate(321.24,517.80) scale(0.9,1)" font-size="11.0" font-weight="normal" fill="#3a3a3a" stroke="#3a3a3a" stroke-width="0.25" textLength="13.45" lengthAdjust="spacing">15</text>
<line x1="351.67" y1="502.90" x2="351.67" y2="505.20" stroke="#444" stroke-width="1"/>
<text transform="translate(346.16,517.80) scale(0.9,1)" font-size="11.0" font-weight="normal" fill="#3a3a3a" stroke="#3a3a3a" stroke-width="0.25" textLength="13.48" lengthAdjust="spacing">20</text>
<line x1="376.48" y1="502.90" x2="376.48" y2="505.20" stroke="#444" stroke-width="1"/>
<text transform="translate(370.98,517.80) scale(0.9,1)" font-size="11.0" font-weight="normal" fill="#3a3a3a" stroke="#3a3a3a" stroke-width="0.25" textLength="13.48" lengthAdjust="spacing">25</text>
<line x1="401.30" y1="502.90" x2="401.30" y2="505.20" stroke="#444" stroke-width="1"/>
<text transform="translate(395.84,517.80) scale(0.9,1)" font-size="11.0" font-weight="normal" fill="#3a3a3a" stroke="#3a3a3a" stroke-width="0.25" textLength="13.49" lengthAdjust="spacing">30</text>
<path d="M354.10,370.70 L357.00,375.90 L351.20,375.90 Z" fill="#fff" stroke="#4a4a4a" stroke-width="1.05" stroke-linejoin="miter"/>
<path d="M296.10,417.70 L299.00,422.90 L293.20,422.90 Z" fill="#fff" stroke="#4a4a4a" stroke-width="1.05" stroke-linejoin="miter"/>
<path d="M334.90,428.90 L337.80,434.10 L332.00,434.10 Z" fill="#fff" stroke="#4a4a4a" stroke-width="1.05" stroke-linejoin="miter"/>
<path d="M354.60,424.40 L357.50,429.60 L351.70,429.60 Z" fill="#fff" stroke="#4a4a4a" stroke-width="1.05" stroke-linejoin="miter"/>
<path d="M373.80,440.10 L376.70,445.30 L370.90,445.30 Z" fill="#fff" stroke="#4a4a4a" stroke-width="1.05" stroke-linejoin="miter"/>
<path d="M332.90,386.15 L335.40,389.40 L332.90,392.65 L330.40,389.40 Z" fill="#000"/>
<path d="M318.00,408.25 L320.50,411.50 L318.00,414.75 L315.50,411.50 Z" fill="#000"/>
<path d="M342.90,409.05 L345.40,412.30 L342.90,415.55 L340.40,412.30 Z" fill="#000"/>
<path d="M342.90,410.75 L345.40,414.00 L342.90,417.25 L340.40,414.00 Z" fill="#000"/>
<path d="M342.90,427.45 L345.40,430.70 L342.90,433.95 L340.40,430.70 Z" fill="#000"/>
<path d="M332.90,431.95 L335.40,435.20 L332.90,438.45 L330.40,435.20 Z" fill="#000"/>
<path d="M362.40,429.85 L364.90,433.10 L362.40,436.35 L359.90,433.10 Z" fill="#000"/>
<path d="M382.50,431.95 L385.00,435.20 L382.50,438.45 L380.00,435.20 Z" fill="#000"/>
<path d="M328.10,440.55 L330.60,443.80 L328.10,447.05 L325.60,443.80 Z" fill="#000"/>
<text transform="translate(353.14,482.80) scale(0.9,1)" font-size="11.3" font-weight="normal" fill="#3a3a3a" stroke="#3a3a3a" stroke-width="0.25" textLength="4.08" lengthAdjust="spacing">r</text>
<text transform="translate(356.39,479.10) scale(0.9,1)" font-size="6.8" font-weight="normal" fill="#3a3a3a" stroke="#3a3a3a" stroke-width="0.25" textLength="5.24" lengthAdjust="spacing">2</text>
<text transform="translate(361.49,482.80) scale(0.9,1)" font-size="11.3" font-weight="normal" fill="#3a3a3a" stroke="#3a3a3a" stroke-width="0.25" textLength="6.79" lengthAdjust="spacing">=</text>
<text transform="translate(368.79,482.80) scale(0.9,1)" font-size="11.3" font-weight="normal" fill="#3a3a3a" stroke="#3a3a3a" stroke-width="0.25" textLength="24.25" lengthAdjust="spacing">0.05</text>
<text transform="translate(353.44,497.20) scale(0.9,1)" font-size="11.3" font-weight="normal" fill="#3a3a3a" stroke="#3a3a3a" stroke-width="0.25" textLength="39.76" lengthAdjust="spacing">p=0.45</text>
<text x="289.25" y="532.00" font-size="11.5" font-weight="bold" fill="#111" textLength="94.81" lengthAdjust="spacing">Post-BD FEV1, %</text>
<text x="215.40" y="370.70" font-size="17" font-weight="bold" fill="#000">H</text>
<text transform="translate(219.40,493.24) rotate(-90) scale(0.68,1.0)" font-size="10" fill="#383838" stroke="#383838" stroke-width="0.15" textLength="172.84" lengthAdjust="spacing">Percentage of 8OHdG/8OHG</text>
<text transform="translate(230.70,495.44) rotate(-90) scale(0.68,1.0)" font-size="10" fill="#383838" stroke="#383838" stroke-width="0.15" textLength="167.78" lengthAdjust="spacing">positive cells in alveolar wall</text>
<line x1="451.40" y1="361.40" x2="451.40" y2="501.90" stroke="#444" stroke-width="1.1"/>
<line x1="449.40" y1="501.40" x2="451.40" y2="501.40" stroke="#444" stroke-width="1"/>
<text transform="translate(437.82,507.22) scale(0.9,1)" font-size="11.5" font-weight="normal" fill="#3a3a3a" stroke="#3a3a3a" stroke-width="0.25" textLength="7.00" lengthAdjust="spacing">0</text>
<line x1="449.40" y1="473.52" x2="451.40" y2="473.52" stroke="#444" stroke-width="1"/>
<text transform="translate(431.48,479.34) scale(0.9,1)" font-size="11.5" font-weight="normal" fill="#3a3a3a" stroke="#3a3a3a" stroke-width="0.25" textLength="14.06" lengthAdjust="spacing">10</text>
<line x1="449.40" y1="445.64" x2="451.40" y2="445.64" stroke="#444" stroke-width="1"/>
<text transform="translate(431.45,451.46) scale(0.9,1)" font-size="11.5" font-weight="normal" fill="#3a3a3a" stroke="#3a3a3a" stroke-width="0.25" textLength="14.10" lengthAdjust="spacing">20</text>
<line x1="449.40" y1="417.76" x2="451.40" y2="417.76" stroke="#444" stroke-width="1"/>
<text transform="translate(431.44,423.58) scale(0.9,1)" font-size="11.5" font-weight="normal" fill="#3a3a3a" stroke="#3a3a3a" stroke-width="0.25" textLength="14.11" lengthAdjust="spacing">30</text>
<line x1="449.40" y1="389.88" x2="451.40" y2="389.88" stroke="#444" stroke-width="1"/>
<text transform="translate(431.42,395.70) scale(0.9,1)" font-size="11.5" font-weight="normal" fill="#3a3a3a" stroke="#3a3a3a" stroke-width="0.25" textLength="14.13" lengthAdjust="spacing">40</text>
<line x1="449.40" y1="362.00" x2="451.40" y2="362.00" stroke="#444" stroke-width="1"/>
<text transform="translate(431.44,367.82) scale(0.9,1)" font-size="11.5" font-weight="normal" fill="#3a3a3a" stroke="#3a3a3a" stroke-width="0.25" textLength="14.11" lengthAdjust="spacing">50</text>
<line x1="450.80" y1="501.40" x2="609.60" y2="501.40" stroke="#444" stroke-width="1.1"/>
<line x1="451.30" y1="501.40" x2="451.30" y2="503.70" stroke="#444" stroke-width="1"/>
<text transform="translate(448.29,517.40) scale(0.9,1)" font-size="11.0" font-weight="normal" fill="#3a3a3a" stroke="#3a3a3a" stroke-width="0.25" textLength="6.70" lengthAdjust="spacing">0</text>
<line x1="482.86" y1="501.40" x2="482.86" y2="503.70" stroke="#444" stroke-width="1"/>
<text transform="translate(473.59,517.40) scale(0.9,1)" font-size="11.0" font-weight="normal" fill="#3a3a3a" stroke="#3a3a3a" stroke-width="0.25" textLength="20.25" lengthAdjust="spacing">100</text>
<line x1="514.42" y1="501.40" x2="514.42" y2="503.70" stroke="#444" stroke-width="1"/>
<text transform="translate(505.26,517.40) scale(0.9,1)" font-size="11.0" font-weight="normal" fill="#3a3a3a" stroke="#3a3a3a" stroke-width="0.25" textLength="20.28" lengthAdjust="spacing">200</text>
<line x1="545.98" y1="501.40" x2="545.98" y2="503.70" stroke="#444" stroke-width="1"/>
<text transform="translate(536.87,517.40) scale(0.9,1)" font-size="11.0" font-weight="normal" fill="#3a3a3a" stroke="#3a3a3a" stroke-width="0.25" textLength="20.29" lengthAdjust="spacing">300</text>
<line x1="577.54" y1="501.40" x2="577.54" y2="503.70" stroke="#444" stroke-width="1"/>
<text transform="translate(568.49,517.40) scale(0.9,1)" font-size="11.0" font-weight="normal" fill="#3a3a3a" stroke="#3a3a3a" stroke-width="0.25" textLength="20.31" lengthAdjust="spacing">400</text>
<line x1="609.10" y1="501.40" x2="609.10" y2="503.70" stroke="#444" stroke-width="1"/>
<text transform="translate(599.99,517.40) scale(0.9,1)" font-size="11.0" font-weight="normal" fill="#3a3a3a" stroke="#3a3a3a" stroke-width="0.25" textLength="20.29" lengthAdjust="spacing">500</text>
<path d="M550.70,365.70 L553.60,370.90 L547.80,370.90 Z" fill="#fff" stroke="#4a4a4a" stroke-width="1.05" stroke-linejoin="miter"/>
<path d="M544.00,420.50 L546.90,425.70 L541.10,425.70 Z" fill="#fff" stroke="#4a4a4a" stroke-width="1.05" stroke-linejoin="miter"/>
<path d="M534.40,436.80 L537.30,442.00 L531.50,442.00 Z" fill="#fff" stroke="#4a4a4a" stroke-width="1.05" stroke-linejoin="miter"/>
<path d="M581.10,413.50 L584.00,418.70 L578.20,418.70 Z" fill="#fff" stroke="#4a4a4a" stroke-width="1.05" stroke-linejoin="miter"/>
<path d="M581.90,425.20 L584.80,430.40 L579.00,430.40 Z" fill="#fff" stroke="#4a4a4a" stroke-width="1.05" stroke-linejoin="miter"/>
<path d="M525.80,380.85 L528.30,384.10 L525.80,387.35 L523.30,384.10 Z" fill="#000"/>
<path d="M522.50,405.25 L525.00,408.50 L522.50,411.75 L520.00,408.50 Z" fill="#000"/>
<path d="M519.50,426.15 L522.00,429.40 L519.50,432.65 L517.00,429.40 Z" fill="#000"/>
<path d="M540.70,424.05 L543.20,427.30 L540.70,430.55 L538.20,427.30 Z" fill="#000"/>
<path d="M541.90,428.45 L544.40,431.70 L541.90,434.95 L539.40,431.70 Z" fill="#000"/>
<path d="M566.50,428.65 L569.00,431.90 L566.50,435.15 L564.00,431.90 Z" fill="#000"/>
<path d="M556.20,437.65 L558.70,440.90 L556.20,444.15 L553.70,440.90 Z" fill="#000"/>
<path d="M589.70,403.75 L592.20,407.00 L589.70,410.25 L587.20,407.00 Z" fill="#000"/>
<text transform="translate(569.74,484.70) scale(0.9,1)" font-size="11.3" font-weight="normal" fill="#3a3a3a" stroke="#3a3a3a" stroke-width="0.25" textLength="4.08" lengthAdjust="spacing">r</text>
<text transform="translate(572.99,481.00) scale(0.9,1)" font-size="6.8" font-weight="normal" fill="#3a3a3a" stroke="#3a3a3a" stroke-width="0.25" textLength="5.24" lengthAdjust="spacing">2</text>
<text transform="translate(578.09,484.70) scale(0.9,1)" font-size="11.3" font-weight="normal" fill="#3a3a3a" stroke="#3a3a3a" stroke-width="0.25" textLength="6.79" lengthAdjust="spacing">=</text>
<text transform="translate(585.39,484.70) scale(0.9,1)" font-size="11.3" font-weight="normal" fill="#3a3a3a" stroke="#3a3a3a" stroke-width="0.25" textLength="25.03" lengthAdjust="spacing">0.02</text>
<text transform="translate(570.24,499.10) scale(0.9,1)" font-size="11.3" font-weight="normal" fill="#3a3a3a" stroke="#3a3a3a" stroke-width="0.25" textLength="39.70" lengthAdjust="spacing">p=0.66</text>
<text x="522.25" y="531.40" font-size="11.5" font-weight="bold" fill="#111" textLength="32.63" lengthAdjust="spacing">RV, %</text>
<text x="421.89" y="370.80" font-size="17" font-weight="bold" fill="#000">I</text>
<text transform="translate(419.10,494.24) rotate(-90) scale(0.68,1.0)" font-size="10" fill="#383838" stroke="#383838" stroke-width="0.15" textLength="172.10" lengthAdjust="spacing">Percentage of 8OHdG/8OHG</text>
<text transform="translate(430.00,496.84) rotate(-90) scale(0.68,1.0)" font-size="10" fill="#383838" stroke="#383838" stroke-width="0.15" textLength="168.51" lengthAdjust="spacing">positive cells in alveolar wall</text>
</svg>
</body></html>
